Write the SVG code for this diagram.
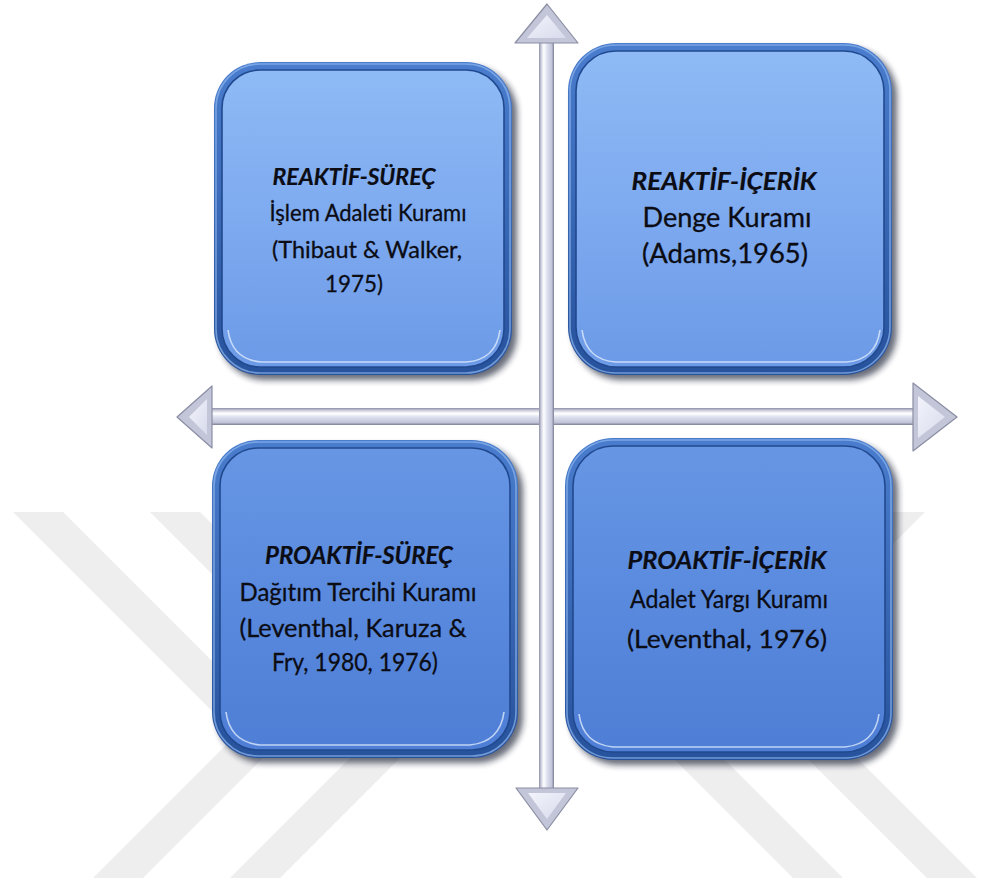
<svg xmlns="http://www.w3.org/2000/svg" width="981" height="887" viewBox="0 0 981 887">
  <style>
    .wm { fill: #eeeeee; }
    .shadow { fill: #141d33; opacity: 0.65; filter: url(#blur); }
    .rim { fill: url(#rimG); }
    .rimHi { fill: none; stroke: #8fb6ee; stroke-width: 1.6; opacity: 0.7; }
    .faceTop { fill: url(#faceTopG); stroke: #21498f; stroke-width: 1.6; }
    .faceBot { fill: url(#faceBotG); stroke: #21498f; stroke-width: 1.6; }
    .gloss { fill: none; stroke: #e6f0ff; stroke-width: 1.6; opacity: 0.75; }
    .t { font-family: Lato, "Open Sans", "Liberation Sans", sans-serif; font-variant-ligatures: none; fill: #0b0c14; stroke: #0b0c14; stroke-width: 0.3; text-anchor: middle; }
    .h { font-weight: bold; font-style: italic; stroke-width: 0.2; }
    .shaftV { fill: url(#shaftVG); }
    .shaftH { fill: url(#shaftHG); }
    .headOut { fill: #c3c6d8; stroke: #8b8ea3; stroke-width: 1.2; stroke-linejoin: round; }
    .headIn { fill: url(#headG); }
  </style>
  <defs>
    <filter id="blur" x="-10%" y="-10%" width="125%" height="125%">
      <feGaussianBlur stdDeviation="3"/>
    </filter>
    <linearGradient id="rimG" x1="0" y1="0" x2="0" y2="1">
      <stop offset="0" stop-color="#4a7dce"/>
      <stop offset="1" stop-color="#27529c"/>
    </linearGradient>
    <linearGradient id="faceTopG" x1="0" y1="0" x2="0" y2="1">
      <stop offset="0" stop-color="#8ebaf5"/>
      <stop offset="0.5" stop-color="#7eaaf0"/>
      <stop offset="1" stop-color="#6c9ae6"/>
    </linearGradient>
    <linearGradient id="faceBotG" x1="0" y1="0" x2="0" y2="1">
      <stop offset="0" stop-color="#6796e4"/>
      <stop offset="0.5" stop-color="#5a8ade"/>
      <stop offset="1" stop-color="#4e7ed5"/>
    </linearGradient>
    <linearGradient id="shaftVG" x1="0" y1="0" x2="1" y2="0">
      <stop offset="0" stop-color="#8e90a6"/>
      <stop offset="0.15" stop-color="#cfd1e0"/>
      <stop offset="0.32" stop-color="#ffffff"/>
      <stop offset="0.55" stop-color="#dcdfee"/>
      <stop offset="0.85" stop-color="#c2c5d8"/>
      <stop offset="1" stop-color="#7c7f95"/>
    </linearGradient>
    <linearGradient id="shaftHG" x1="0" y1="0" x2="0" y2="1">
      <stop offset="0" stop-color="#8e90a6"/>
      <stop offset="0.15" stop-color="#cfd1e0"/>
      <stop offset="0.32" stop-color="#ffffff"/>
      <stop offset="0.55" stop-color="#dcdfee"/>
      <stop offset="0.85" stop-color="#c2c5d8"/>
      <stop offset="1" stop-color="#7c7f95"/>
    </linearGradient>
    <linearGradient id="headG" x1="0" y1="0" x2="1" y2="1">
      <stop offset="0" stop-color="#f2f3fb"/>
      <stop offset="1" stop-color="#d8dbec"/>
    </linearGradient>
  </defs>

  <rect width="981" height="887" fill="#ffffff"/>

  <!-- background chevron bands -->
  <g id="watermark">
    <polygon class="wm" points="13,512 63,512 286,735 143,878 93,878 236,735"/>
    <polygon class="wm" points="150,512 200,512 423,735 280,878 230,878 373,735"/>
    <polygon class="wm" points="875,512 718,669 927,878 977,878 768,669 925,512"/>
    <polygon class="wm" points="741,512 584,669 793,878 843,878 634,669 791,512"/>
  </g>

  <!-- axes -->
  <g id="connectors">
    <rect class="shaftH" x="209" y="408" width="708" height="17"/>
    <rect class="shaftV" x="539" y="40" width="15" height="752"/>
    <!-- up -->
    <polygon class="headOut" points="547,4 578,43 515,43"/>
    <polygon class="headIn" points="547,15 566,38 527,38"/>
    <!-- down -->
    <polygon class="headOut" points="516,788 578,788 547,830"/>
    <polygon class="headIn" points="528,793 566,793 547,819"/>
    <!-- left -->
    <polygon class="headOut" points="177,417 212,386 212,448"/>
    <polygon class="headIn" points="189,417 207,399 207,435"/>
    <!-- right -->
    <polygon class="headOut" points="957,417 913,383 913,451"/>
    <polygon class="headIn" points="945,417 918,396 918,438"/>
  </g>

  <!-- top-left quadrant -->
  <g id="reaktif-surec">
    <rect class="shadow" x="219" y="67" width="298" height="313" rx="46"/>
    <rect class="rim" x="214" y="62" width="298" height="313" rx="46"/>
    <rect class="rimHi" x="216" y="64" width="294" height="309" rx="44"/>
    <rect class="faceTop" x="222" y="70" width="282" height="297" rx="38"/>
    <path class="gloss" d="M228,330 Q232,360 262,362 L466,362 Q496,360 500,330"/>
    <text class="t h" x="354" y="185" font-size="23.5" textLength="163" lengthAdjust="spacingAndGlyphs">REAKTİF-SÜREÇ</text>
    <text class="t" x="368" y="221" font-size="24" textLength="197" lengthAdjust="spacingAndGlyphs">İşlem Adaleti Kuramı</text>
    <text class="t" x="367" y="258" font-size="24" textLength="190" lengthAdjust="spacingAndGlyphs">(Thibaut &amp; Walker,</text>
    <text class="t" x="354" y="292" font-size="24" textLength="58" lengthAdjust="spacingAndGlyphs">1975)</text>
  </g>

  <!-- top-right quadrant -->
  <g id="reaktif-icerik">
    <rect class="shadow" x="573" y="48" width="324" height="332" rx="48"/>
    <rect class="rim" x="568" y="43" width="324" height="332" rx="48"/>
    <rect class="rimHi" x="570" y="45" width="320" height="328" rx="46"/>
    <rect class="faceTop" x="576" y="51" width="308" height="316" rx="40"/>
    <path class="gloss" d="M582,330 Q586,360 616,362 L846,362 Q876,360 880,330"/>
    <text class="t h" x="724" y="190" font-size="25" textLength="185" lengthAdjust="spacingAndGlyphs">REAKTİF-İÇERİK</text>
    <text class="t" x="727" y="227" font-size="27" textLength="169" lengthAdjust="spacingAndGlyphs">Denge Kuramı</text>
    <text class="t" x="725" y="263" font-size="27" textLength="166" lengthAdjust="spacingAndGlyphs">(Adams,1965)</text>
  </g>

  <!-- bottom-left quadrant -->
  <g id="proaktif-surec">
    <rect class="shadow" x="217" y="445" width="306" height="318" rx="46"/>
    <rect class="rim" x="212" y="440" width="306" height="318" rx="46"/>
    <rect class="rimHi" x="214" y="442" width="302" height="314" rx="44"/>
    <rect class="faceBot" x="220" y="448" width="290" height="302" rx="38"/>
    <path class="gloss" d="M226,712 Q230,742 260,745 L470,745 Q500,742 504,712"/>
    <text class="t h" x="359" y="564" font-size="24.5" textLength="188" lengthAdjust="spacingAndGlyphs">PROAKTİF-SÜREÇ</text>
    <text class="t" x="358" y="601" font-size="25" textLength="237" lengthAdjust="spacingAndGlyphs">Dağıtım Tercihi Kuramı</text>
    <text class="t" x="353" y="637" font-size="25" textLength="227" lengthAdjust="spacingAndGlyphs">(Leventhal, Karuza &amp;</text>
    <text class="t" x="355" y="671" font-size="25" textLength="166" lengthAdjust="spacingAndGlyphs">Fry, 1980, 1976)</text>
  </g>

  <!-- bottom-right quadrant -->
  <g id="proaktif-icerik">
    <rect class="shadow" x="570" y="443" width="328" height="322" rx="48"/>
    <rect class="rim" x="565" y="438" width="328" height="322" rx="48"/>
    <rect class="rimHi" x="567" y="440" width="324" height="318" rx="46"/>
    <rect class="faceBot" x="573" y="446" width="312" height="306" rx="40"/>
    <path class="gloss" d="M579,714 Q583,744 613,747 L845,747 Q875,744 879,714"/>
    <text class="t h" x="727" y="569" font-size="24.5" textLength="199" lengthAdjust="spacingAndGlyphs">PROAKTİF-İÇERİK</text>
    <text class="t" x="729" y="608" font-size="25" textLength="198" lengthAdjust="spacingAndGlyphs">Adalet Yargı Kuramı</text>
    <text class="t" x="727" y="648" font-size="25" textLength="200" lengthAdjust="spacingAndGlyphs">(Leventhal, 1976)</text>
  </g>
</svg>
